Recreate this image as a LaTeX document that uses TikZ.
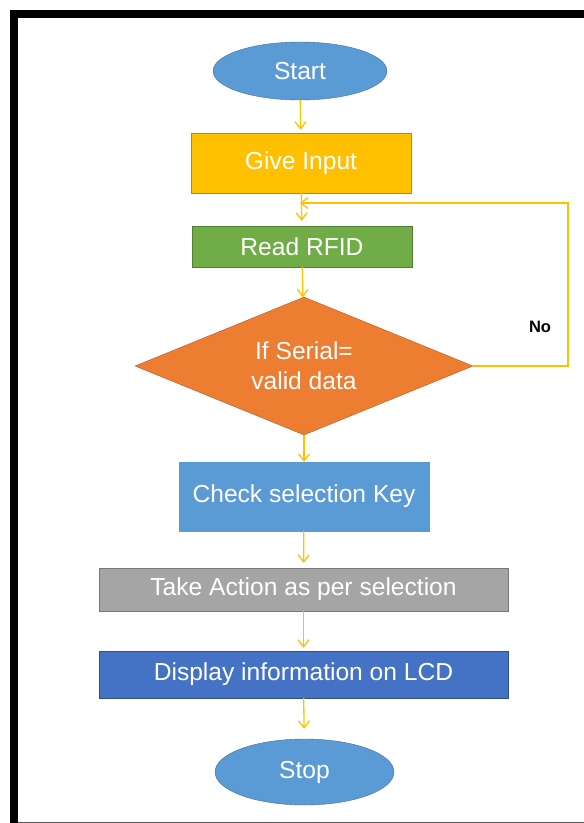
\documentclass[tikz,border=0pt]{standalone}
\usepackage{fontspec}
\setmainfont{Liberation Sans}
\usepackage{tikz}
\usetikzlibrary{arrows,arrows.meta}
\usetikzlibrary{shapes}
\usetikzlibrary{calc}
\definecolor{ofblue}{HTML}{5B9BD5}
\definecolor{ofblueline}{HTML}{41719C}
\definecolor{ofgold}{HTML}{FFC000}
\definecolor{ofgoldline}{HTML}{BC8C00}
\definecolor{ofgreen}{HTML}{70AD47}
\definecolor{ofgreenline}{HTML}{507E32}
\definecolor{oforange}{HTML}{ED7D31}
\definecolor{oforangeline}{HTML}{AE5A21}
\definecolor{ofgray}{HTML}{A5A5A5}
\definecolor{ofgrayline}{HTML}{787878}
\definecolor{ofnavy}{HTML}{4472C4}
\definecolor{ofnavyline}{HTML}{2F528F}
\tikzstyle{terminal}=[ellipse,draw=ofblueline,fill=ofblue,text=white,inner sep=0pt]
\tikzstyle{process}=[rectangle,draw,text=white,inner sep=0pt]
\tikzstyle{decision}=[diamond,aspect=2.45,draw=oforangeline,fill=oforange,text=white,inner sep=0pt,align=center]
\tikzstyle{flow}=[draw=ofgold,line width=1.3pt,-{Straight Barb[length=7pt,width=11pt]}]
\begin{document}
\begin{tikzpicture}[x=1pt,y=-1pt,font=\fontsize{24.6pt}{30pt}\selectfont]
	\useasboundingbox (0,0) rectangle (584,823);
	\fill (10,10) rectangle (18,823);
	\fill (10,10) rectangle (584,18);
	\fill[black!65] (18,821.5) rectangle (584,823);
	\node[terminal,minimum width=174pt,minimum height=58pt] (start) at (300,71) {Start};
	\node[process,fill=ofgold,draw=ofgoldline,minimum width=220pt,minimum height=60pt] (input) at (301,163) {Give Input};
	\node[process,fill=ofgreen,draw=ofgreenline,minimum width=220pt,minimum height=41pt] (read) at (302,246.5) {Read RFID};
	\node[decision,minimum width=338pt,minimum height=138pt] (dec) at (304,366) {If Serial=\\valid data};
	\node[process,fill=ofblue,draw=ofblue,minimum width=250pt,minimum height=69pt] (check) at (304,496.5) {Check selection Key};
	\node[process,fill=ofgray,draw=ofgrayline,minimum width=409pt,minimum height=43pt] (take) at (303.5,589.5) {Take Action as per selection};
	\node[process,fill=ofnavy,draw=ofnavyline,minimum width=409pt,minimum height=47pt] (display) at (303.5,674.5) {Display information on LCD};
	\node[terminal,minimum width=179pt,minimum height=66pt] (stop) at (304.5,772) {Stop};
	\node[font=\fontsize{16.5pt}{18pt}\selectfont\bfseries] (no) at (540,327) {No};
	\coordinate (turn) at (568,366);
	\coordinate (merge) at (300,203);
	\draw[flow,shorten >=3pt] (start) -- (input);
	\draw[flow,shorten >=5pt] (input) -- (read);
	\draw[flow] (read) -- (dec);
	\draw[flow] (dec) -- (check);
	\draw[flow,shorten >=5pt] (check) -- (take);
	\draw[flow,shorten >=3pt] (take) -- (display);
	\draw[flow,shorten >=10pt] (display) -- (stop);
	\draw[flow] (dec.east) -- (turn) |- (merge);
\end{tikzpicture}
\end{document}
